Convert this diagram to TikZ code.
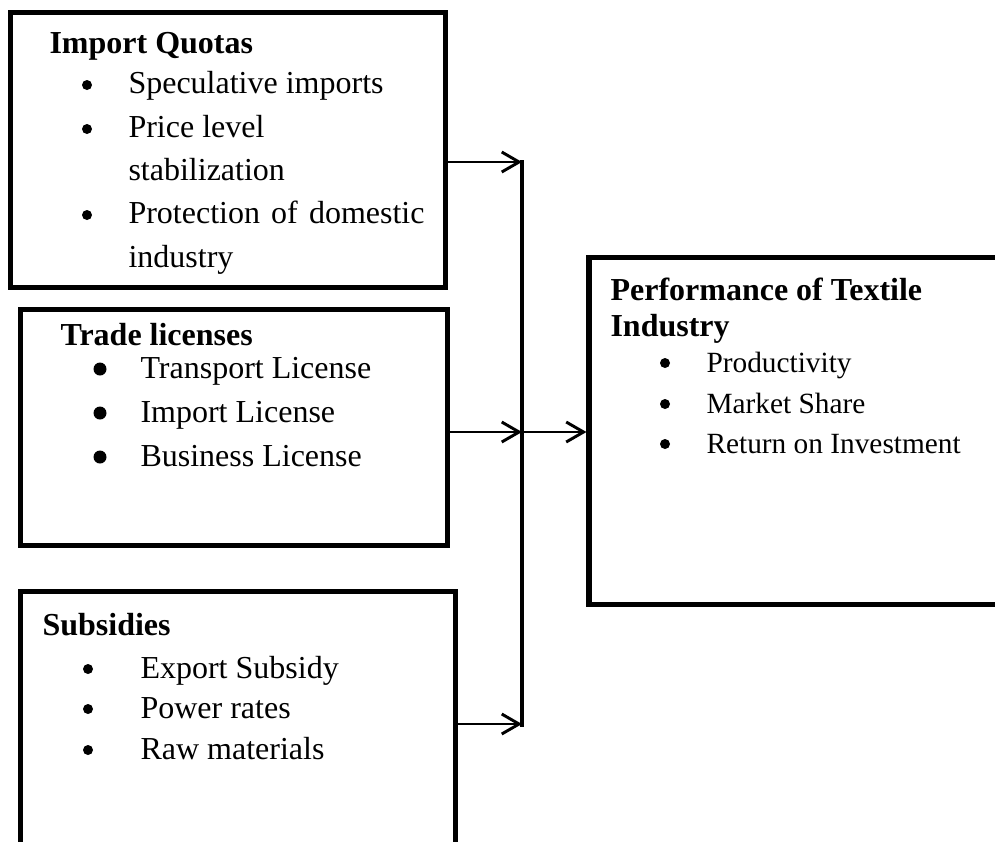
\documentclass[tikz,border=0pt]{standalone}
\usepackage{fontspec}
\setmainfont{Liberation Serif}
\usetikzlibrary{fit}
\usetikzlibrary{arrows.meta}
\tikzset{
  box/.style = {draw=black, line width=1.9pt, inner sep=0pt},
  head/.style = {anchor=base west, inner sep=0pt, font=\fontsize{12}{14}\selectfont\bfseries},
  entry/.style = {anchor=base west, inner sep=0pt, font=\fontsize{12}{14}\selectfont},
  small entry/.style = {anchor=base west, inner sep=0pt, font=\fontsize{11}{13}\selectfont},
  feed/.style = {black, line width=1pt, -{Straight Barb[length=6.5pt,width=7.5pt,line width=1.1pt]}},
  bus/.style = {black, line width=1.8pt}
}

\begin{document}
\begin{tikzpicture}[x=0.375pt, y=-0.375pt]

    % Canvas
    \useasboundingbox (0,0) rectangle (995,841);
    \clip (0,0) rectangle (995,841);

    % Coordinates
    \coordinate (top) at (522,160);
    \coordinate (bot) at (522,727);
    \coordinate (J1) at (522,162);
    \coordinate (J2) at (522,432);
    \coordinate (J3) at (522,724);

    % Boxes
    \node[box, fit={(10.5,12.5) (445.5,287.5)}] (quotas) {};
    \node[box, fit={(20.5,309.5) (447.5,545.5)}] (licenses) {};
    \node[box, fit={(20.5,591.5) (455.5,870)}] (subsidies) {};
    \node[box, fit={(589,257.5) (1020,604.5)}] (perf) {};

    % Import quotas
    \node[head] (qHead) at (49,53) {Import Quotas};
    \fill (87,85) circle (5);
    \node[entry] (q1) at (128,93) {Speculative imports};
    \fill (87,129) circle (5);
    \node[entry] (q2a) at (128,137) {Price level};
    \node[entry] (q2b) at (128,180) {stabilization};
    \fill (87,215) circle (5);
    \node[entry] (q3a) at (128,223) {\makebox[111pt][s]{Protection of domestic}};
    \node[entry] (q3b) at (128,267) {industry};

    % Trade licenses
    \node[head] (tHead) at (60,345) {Trade licenses};
    \fill (100,369) circle (6.5);
    \node[entry] (t1) at (140,378) {Transport License};
    \fill (100,413) circle (6.5);
    \node[entry] (t2) at (140,422) {Import License};
    \fill (100,457) circle (6.5);
    \node[entry] (t3) at (140,466) {Business License};

    % Subsidies
    \node[head] (sHead) at (42,635) {Subsidies};
    \fill (88,669) circle (5);
    \node[entry] (s1) at (140,678) {Export Subsidy};
    \fill (88,709) circle (5);
    \node[entry] (s2) at (140,718) {Power rates};
    \fill (88,750) circle (5);
    \node[entry] (s3) at (140,759) {Raw materials};

    % Performance
    \node[head] (pHead1) at (610,300) {Performance of Textile};
    \node[head] (pHead2) at (610,336) {Industry};
    \fill (665,363) circle (5);
    \node[small entry] (p1) at (706,372) {Productivity};
    \fill (665,404) circle (5);
    \node[small entry] (p2) at (706,413) {Market Share};
    \fill (665,444) circle (5);
    \node[small entry] (p3) at (706,453) {Return on Investment};

    % Links
    \draw[bus] (top) -- (bot);
    \draw[feed] (quotas.east |- J1) -- (J1);
    \draw[feed] (licenses.east |- J2) -- (J2);
    \draw[feed] (subsidies.east |- J3) -- (J3);
    \draw[feed] (J2) -- (perf.west |- J2);

\end{tikzpicture}
\end{document}
